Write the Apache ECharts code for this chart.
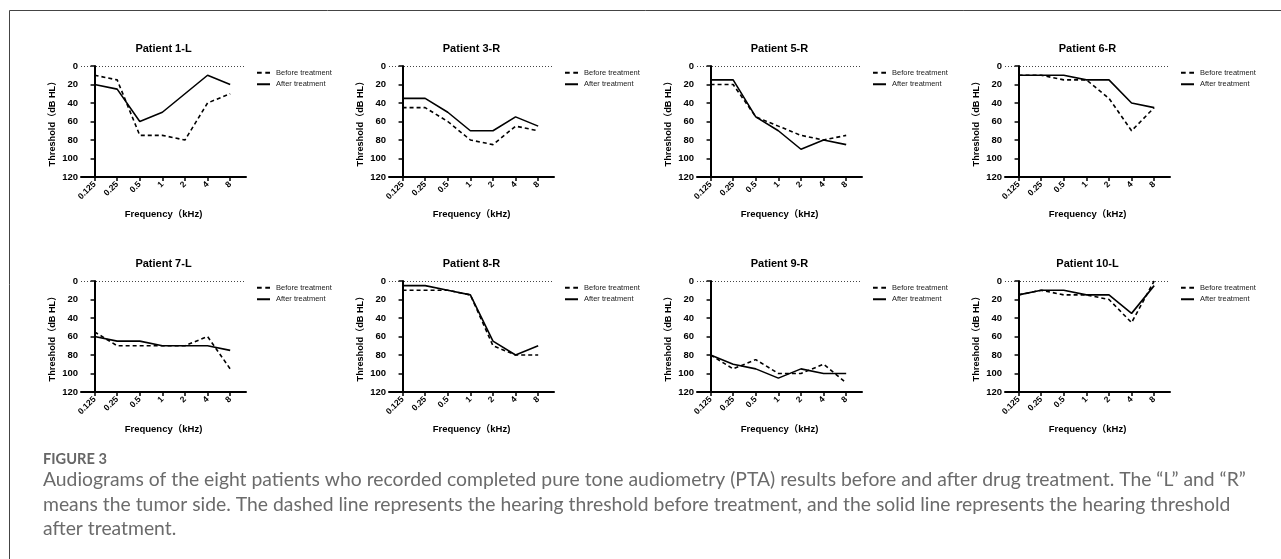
<!DOCTYPE html>
<html><head><meta charset="utf-8">
<script src="https://cdn.jsdelivr.net/npm/echarts@6/dist/echarts.min.js"></script>
<style>html,body{margin:0;padding:0;background:#fff}#c{width:1281px;height:559px}</style>
</head><body><div id="c"></div>
<script>
// ---- data ----
const freqLabels = ['0.125', '0.25', '0.5', '1', '2', '4', '8'];
const panelTitles = ['Patient 1-L', 'Patient 3-R', 'Patient 5-R', 'Patient 6-R',
                     'Patient 7-L', 'Patient 8-R', 'Patient 9-R', 'Patient 10-L'];
const before_1L = [10, 15, 75, 75, 80, 40, 30];
const after_1L  = [20, 25, 60, 50, 30, 10, 20];
const before_3R = [45, 45, 60, 80, 85, 65, 70];
const after_3R  = [35, 35, 50, 70, 70, 55, 65];
const before_5R = [20, 20, 55, 65, 75, 80, 75];
const after_5R  = [15, 15, 55, 70, 90, 80, 85];
const before_6R = [10, 10, 15, 15, 35, 70, 45];
const after_6R  = [10, 10, 10, 15, 15, 40, 45];
const before_7L = [55, 70, 70, 70, 70, 60, 95];
const after_7L  = [60, 65, 65, 70, 70, 70, 75];
const before_8R = [10, 10, 10, 15, 70, 80, 80];
const after_8R  = [5, 5, 10, 15, 65, 80, 70];
const before_9R = [80, 95, 85, 100, 100, 90, 110];
const after_9R  = [80, 90, 95, 105, 95, 100, 100];
const before_10L = [15, 10, 15, 15, 20, 45, 0];
const after_10L  = [15, 10, 10, 15, 15, 35, 5];
const beforeSets = [before_1L, before_3R, before_5R, before_6R, before_7L, before_8R, before_9R, before_10L];
const afterSets  = [after_1L, after_3R, after_5R, after_6R, after_7L, after_8R, after_9R, after_10L];
const yMin = 0, yMax = 120, yStep = 20;
const legendNames = ['Before treatment', 'After treatment'];
const xTitle = 'Frequency（kHz)';
const yTitle = 'Threshold（dB HL）';
const figureLabel = 'FIGURE 3';
const captionLines = [
  'Audiograms of the eight patients who recorded completed pure tone audiometry (PTA) results before and after drug treatment. The \u201cL\u201d and \u201cR\u201d',
  'means the tumor side. The dashed line represents the hearing threshold before treatment, and the solid line represents the hearing threshold',
  'after treatment.'
];

// ---- layout ----
const colLeft = [81, 389, 697, 1005];
const rowTop = [66, 281];
const gW = 165, gH = 111;
const FONT = '"Liberation Sans", Arial, "Noto Sans CJK SC", sans-serif';
const idx = freqLabels.map((_, i) => i);
const dashIcon = 'path://M0,0h4.7v2h-4.7z M8.3,0h4.7v2h-4.7z';
const solidIcon = 'path://M0,0h13v2h-13z';

const cv = document.createElement('canvas').getContext('2d');
function fit(text, font, target) { cv.font = '100px ' + font; return 100 * target / cv.measureText(text).width; }
const capFont = 'Lato, "Noto Sans", sans-serif';
const capSize = fit(captionLines[0], capFont, 1204);
cv.font = 'bold 100px ' + capFont;
const figSize = 100 * 64 / cv.measureText(figureLabel).width;

const grids = [], xAxes = [], yAxes = [], series = [], legends = [], graphics = [];
for (let p = 0; p < 8; p++) {
  const gl = colLeft[p % 4], gt = rowTop[Math.floor(p / 4)];
  grids.push({ left: gl, top: gt, width: gW, height: gH });
  xAxes.push({
    gridIndex: p, type: 'value', min: -0.6, max: 6.7,
    name: xTitle, nameLocation: 'middle', nameGap: 33,
    nameTextStyle: { fontFamily: FONT, fontWeight: 'bold', fontSize: 9.5, color: '#000' },
    axisLine: { onZero: false, lineStyle: { color: '#000', width: 2 } },
    axisTick: { show: true, customValues: idx, length: 4, lineStyle: { color: '#000', width: 1.5 } },
    axisLabel: { customValues: idx, formatter: v => freqLabels[v], rotate: 45, margin: 6,
                 fontFamily: FONT, fontWeight: 'bold', fontSize: 8.5, color: '#000' },
    splitLine: { show: false }
  });
  yAxes.push({
    gridIndex: p, type: 'value', min: yMin, max: yMax, interval: yStep, inverse: true,
    name: yTitle, nameLocation: 'middle', nameGap: 24,
    nameTextStyle: { fontFamily: FONT, fontWeight: 'bold', fontSize: 9.2, color: '#000' },
    axisLine: { show: true, lineStyle: { color: '#000', width: 2 } },
    axisTick: { show: true, length: 4, lineStyle: { color: '#000', width: 1.5 } },
    axisLabel: { margin: 3, fontFamily: FONT, fontWeight: 'bold', fontSize: 9.5, color: '#000' },
    splitLine: { show: false }
  });
  series.push({
    type: 'line', name: legendNames[0], xAxisIndex: p, yAxisIndex: p,
    data: beforeSets[p].map((v, j) => [j, v]), symbol: 'none', silent: true,
    lineStyle: { color: '#000', width: 1.6, type: [4, 3] }, itemStyle: { color: '#000' },
    markLine: { silent: true, symbol: 'none', label: { show: false },
                lineStyle: { type: [1, 2], color: '#444', width: 1 }, data: [{ yAxis: 0 }] }
  });
  series.push({
    type: 'line', name: legendNames[1], xAxisIndex: p, yAxisIndex: p,
    data: afterSets[p].map((v, j) => [j, v]), symbol: 'none', silent: true,
    lineStyle: { color: '#000', width: 1.6, type: 'solid' }, itemStyle: { color: '#000' }
  });
  legends.push({
    left: gl + 176, top: gt + 3, orient: 'vertical', padding: 0,
    itemWidth: 13, itemHeight: 2, itemGap: 4, selectedMode: false,
    itemStyle: { color: '#000', borderWidth: 0 },
    textStyle: { fontFamily: FONT, fontSize: 7.5, color: '#222', padding: [0, 0, 0, 1] },
    data: [{ name: legendNames[0], icon: dashIcon }, { name: legendNames[1], icon: solidIcon }]
  });
  graphics.push({
    type: 'text', x: gl + gW / 2, y: gt - 17,
    style: { text: panelTitles[p], fontFamily: FONT, fontWeight: 'bold', fontSize: 11,
             fill: '#000', align: 'center', verticalAlign: 'middle' }
  });
}
graphics.push({ type: 'polyline', shape: { points: [[9.5, 559], [9.5, 10.5], [1281, 10.5]] },
                style: { stroke: '#444', lineWidth: 1, fill: null } });
graphics.push({ type: 'text', x: 43, y: 459.5,
  style: { text: figureLabel, fontFamily: capFont, fontWeight: 'bold', fontSize: figSize,
           fill: '#666', align: 'left', verticalAlign: 'middle' } });
const capY = [480, 504.5, 529];
captionLines.forEach((t, i) => graphics.push({ type: 'text', x: 43, y: capY[i],
  style: { text: t, fontFamily: capFont, fontSize: capSize, fill: '#6b6b6b',
           align: 'left', verticalAlign: 'middle' } }));

const chart = echarts.init(document.getElementById('c'), null, { renderer: 'canvas' });
chart.setOption({
  animation: false, backgroundColor: '#fff',
  grid: grids, xAxis: xAxes, yAxis: yAxes, series: series, legend: legends, graphic: graphics
});
</script></body></html>
